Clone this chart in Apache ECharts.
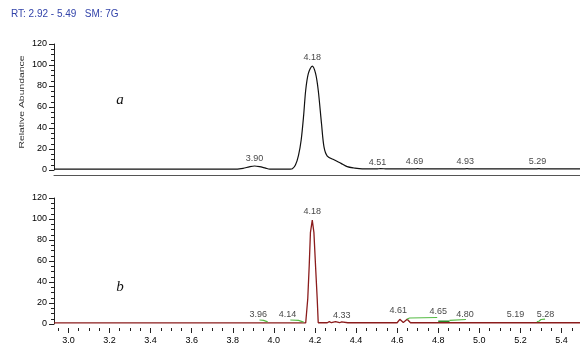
<!DOCTYPE html>
<html>
<head>
<meta charset="utf-8">
<script src="https://cdn.jsdelivr.net/npm/echarts@6/dist/echarts.min.js"></script>
<style>
    html, body {margin: 0; padding: 0; background: #fff;}
    #chart {width: 580px; height: 345px;}
</style>
</head>
<body>
<div id="chart"></div>
<script>
// trace a (black) - retention time / relative abundance
var topRT = [2.93, 3.80, 3.85, 3.88, 3.906, 3.93, 3.96, 3.98, 4.08, 4.09, 4.105, 4.12, 4.133, 4.145, 4.155, 4.168, 4.187,
    4.203, 4.216, 4.232, 4.244, 4.26, 4.295, 4.327, 4.357, 4.39, 4.43, 4.50, 4.52, 4.55, 4.68, 4.70, 4.72,
    4.92, 4.94, 4.96, 5.27, 5.29, 5.31, 5.49];
var topAbundance = [0.8, 0.8, 1.6, 3.0, 3.8, 3.2, 1.8, 0.9, 0.9, 1.2, 4.7, 14, 28.6, 52, 76, 92, 99,
    92, 76, 44, 22, 13.3, 9.5, 6.3, 3.2, 1.9, 1.0, 1.0, 1.4, 1.0, 1.0, 1.3, 1.0,
    1.0, 1.3, 1.0, 1.0, 1.3, 1.0, 1.0];

// trace b (dark red)
var botRT = [2.93, 4.155, 4.165, 4.172, 4.178, 4.187, 4.195, 4.203, 4.211, 4.216, 4.26, 4.27, 4.28, 4.30, 4.32, 4.33,
    4.36, 4.60, 4.613, 4.63, 4.649, 4.665, 5.49];
var botAbundance = [1.0, 1.0, 24, 55, 87, 99, 87, 55, 24, 1.2, 1.2, 2.2, 1.2, 2.3, 1.2, 2.0,
    1.2, 1.2, 4.5, 1.5, 4.5, 1.2, 1.2];

// integration baselines (green)
var greenRT = [3.93, 3.95, 3.97, null, 4.08, 4.12, 4.145, null, 4.648, 4.66, 4.795, null, 4.855, 4.935, null, 5.28, 5.29, 5.30, 5.32];
var greenAbundance = [3.8, 3.5, 2.0, null, 3.8, 3.5, 1.8, null, 4.5, 5.7, 6.2, null, 3.5, 4.3, null, 2.3, 2.6, 4.3, 4.6];
var darkGreenRT = [4.80, 4.855];
var darkGreenAbundance = [2.6, 2.6];

// peak labels
var topPeakLabels = ['3.90', '4.18', '4.51', '4.69', '4.93', '5.29'];
var topPeakRT = [3.906, 4.187, 4.505, 4.684, 4.932, 5.283];
var topPeakY = [11.1, 107.3, 7.3, 7.9, 7.9, 7.9];
var botPeakLabels = ['3.96', '4.14', '4.18', '4.33', '4.61', '4.65', '4.80', '5.19', '5.28'];
var botPeakRT = [3.924, 4.067, 4.187, 4.33, 4.605, 4.80, 4.93, 5.176, 5.322];
var botPeakY = [8.8, 8.8, 107, 8.5, 12.6, 11.6, 8.8, 8.8, 8.8];

// axis ticks
var xLabelValues = [3.0, 3.2, 3.4, 3.6, 3.8, 4.0, 4.2, 4.4, 4.6, 4.8, 5.0, 5.2, 5.4];
var rtMin = 2.93, rtMax = 5.49;

var xMinorTicks = [];
for (var i = 59; i <= 109; i++) xMinorTicks.push(i * 0.05);

function pairs(xs, ys) {
    var out = [];
    for (var i = 0; i < xs.length; i++) out.push(xs[i] === null ? '-' : [xs[i], ys[i]]);
    return out;
}
function labelData(xs, ys, names) {
    var out = [];
    for (var i = 0; i < xs.length; i++) out.push({name: names[i], value: [xs[i], ys[i]]});
    return out;
}

var yAxisBase = {
    type: 'value', min: 0, max: 120, interval: 20,
    axisLine: {show: true, lineStyle: {color: '#222', width: 1}},
    axisTick: {show: true, length: 5, lineStyle: {color: '#222'}},
    minorTick: {show: true, splitNumber: 4, length: 3, lineStyle: {color: '#222'}},
    splitLine: {show: false},
    axisLabel: {fontSize: 9, color: '#000', fontFamily: 'Arial', margin: 7}
};

var labelStyle = {show: true, position: 'inside', formatter: '{b}', fontSize: 9, color: '#111', fontFamily: 'Arial'};

var chart = echarts.init(document.getElementById('chart'));
chart.setOption({
    animation: false,
    grid: [
        {left: 54, top: 44, width: 538, height: 126},
        {left: 54, top: 198, width: 538, height: 127}
    ],
    xAxis: [
        {type: 'value', gridIndex: 0, position: 'bottom', min: rtMin, max: rtMax, offset: 5,
            axisLine: {show: true, onZero: false, lineStyle: {color: '#555', width: 1}},
            axisTick: {show: false}, axisLabel: {show: false}, splitLine: {show: false}},
        {type: 'value', gridIndex: 1, position: 'bottom', min: rtMin, max: rtMax, offset: 4,
            axisLine: {show: false, onZero: false},
            axisTick: {show: true, length: 5, customValues: xLabelValues, lineStyle: {color: '#222'}},
            axisLabel: {customValues: xLabelValues, fontSize: 9, color: '#000', fontFamily: 'Arial', margin: 8,
                formatter: function (v) { return v.toFixed(1); }},
            splitLine: {show: false}},
        {type: 'value', gridIndex: 1, position: 'bottom', min: rtMin, max: rtMax, offset: 4,
            axisLine: {show: false, onZero: false},
            axisTick: {show: true, length: 3, customValues: xMinorTicks, lineStyle: {color: '#222'}},
            axisLabel: {show: false}, splitLine: {show: false}}
    ],
    yAxis: [
        echarts.util.merge({gridIndex: 0}, yAxisBase, true),
        echarts.util.merge({gridIndex: 1}, yAxisBase, true)
    ],
    series: [
        {type: 'line', xAxisIndex: 0, yAxisIndex: 0, data: pairs(topRT, topAbundance), showSymbol: false,
            smooth: 0.3, lineStyle: {color: '#111', width: 1.2}, silent: true},
        {type: 'line', xAxisIndex: 1, yAxisIndex: 1, data: pairs(botRT, botAbundance), showSymbol: false,
            lineStyle: {color: '#8b1c1c', width: 1.3}, silent: true},
        {type: 'line', xAxisIndex: 1, yAxisIndex: 1, data: pairs(greenRT, greenAbundance), showSymbol: false,
            connectNulls: false, lineStyle: {color: '#55bb44', width: 1.2}, silent: true, z: 3},
        {type: 'line', xAxisIndex: 1, yAxisIndex: 1, data: pairs(darkGreenRT, darkGreenAbundance), showSymbol: false,
            lineStyle: {color: '#2a8a2a', width: 1.5}, silent: true, z: 3},
        {type: 'scatter', xAxisIndex: 0, yAxisIndex: 0, symbolSize: 0, data: labelData(topPeakRT, topPeakY, topPeakLabels),
            label: labelStyle, silent: true, z: 5},
        {type: 'scatter', xAxisIndex: 1, yAxisIndex: 1, symbolSize: 0, data: labelData(botPeakRT, botPeakY, botPeakLabels),
            label: labelStyle, silent: true, z: 5}
    ],
    graphic: [
        {type: 'text', left: 11, top: 9, style: {text: 'RT: 2.92 - 5.49   SM: 7G', fill: '#3344aa', font: '10px Arial'}},
        {type: 'text', x: 22, y: 102, rotation: Math.PI / 2, scaleX: 1.3,
            style: {text: 'Relative Abundance', fill: '#333', font: '8px Arial', align: 'center', verticalAlign: 'middle'}},
        {type: 'text', x: 120, y: 100, style: {text: 'a', fill: '#111', font: 'italic 15px "Liberation Serif"', align: 'center', verticalAlign: 'middle'}},
        {type: 'text', x: 120, y: 287, style: {text: 'b', fill: '#111', font: 'italic 15px "Liberation Serif"', align: 'center', verticalAlign: 'middle'}}
    ]
});
</script>
</body>
</html>
